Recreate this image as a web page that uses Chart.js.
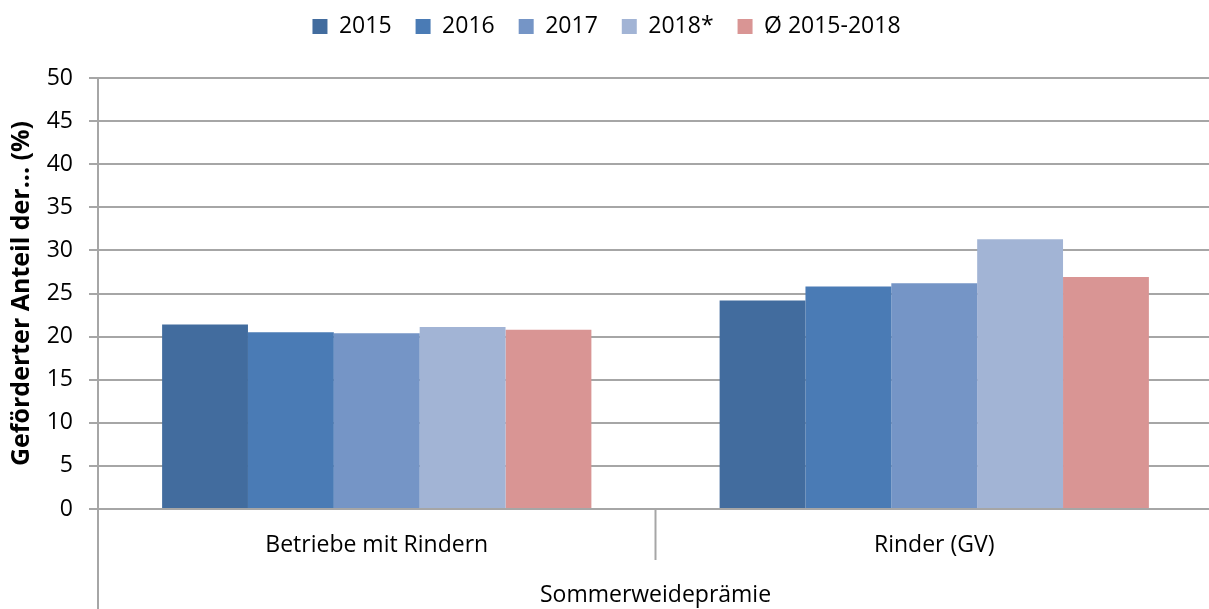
<!DOCTYPE html>
<html>
    <head>
        <meta charset="UTF-8">
        <title>Sommerweideprämie</title>
        <script src="https://cdn.jsdelivr.net/npm/chart.js"></script>
        <style>
            body { margin: 0; overflow: hidden; background: #fff; }
            #wrap { width: 1213px; height: 609px; position: relative; }
        </style>
    </head>
    <body>
        <div id="wrap">
            <canvas id="chart"></canvas>
        </div>
        <script>
        // Daten
        const categories = ['Betriebe mit Rindern', 'Rinder (GV)'];
        const seriesNames = ['2015', '2016', '2017', '2018*', 'Ø 2015-2018'];
        const v2015 = [21.4, 24.2];
        const v2016 = [20.5, 25.8];
        const v2017 = [20.4, 26.2];
        const v2018 = [21.1, 31.3];
        const vAvg = [20.8, 26.9];
        const yTicks = [0, 5, 10, 15, 20, 25, 30, 35, 40, 45, 50];
        const groupLabel = 'Sommerweideprämie';
        const yTitle = 'Geförderter Anteil der... (%)';

        const colors = ['#426c9e', '#4a7bb5', '#7595c6', '#a2b4d5', '#d99594'];
        const values = [v2015, v2016, v2017, v2018, vAvg];
        const FONT = '"Open Sans", sans-serif';
        const gridColor = '#a6a6a6';

        // Abstand zwischen Legende und Diagramm
        const legendSpacer = {
            id: 'legendSpacer',
            beforeInit(chart) {
                const fit = chart.legend.fit;
                chart.legend.fit = function () {
                    fit.call(this);
                    this.height += 30;
                };
            }
        };

        // Trennlinien der Kategorien unterhalb der x-Achse
        const separatorPlugin = {
            id: 'separators',
            afterDraw(chart) {
                const c = chart.ctx;
                const area = chart.chartArea;
                const x = chart.scales.x;
                c.save();
                c.strokeStyle = gridColor;
                c.lineWidth = 2;
                // linke Achse bis zum unteren Rand verlängern
                c.beginPath();
                c.moveTo(area.left, area.bottom);
                c.lineTo(area.left, chart.height);
                c.stroke();
                // Grenze zwischen den Kategorien
                for (let i = 1; i < categories.length; i++) {
                    const px = (x.getPixelForValue(i - 1) + x.getPixelForValue(i)) / 2;
                    c.beginPath();
                    c.moveTo(px, area.bottom);
                    c.lineTo(px, area.bottom + 51);
                    c.stroke();
                }
                c.restore();
            }
        };

        new Chart(document.getElementById('chart'), {
            type: 'bar',
            data: {
                labels: categories,
                datasets: seriesNames.map((name, i) => ({
                    label: name,
                    data: values[i],
                    backgroundColor: colors[i],
                    categoryPercentage: 0.77,
                    barPercentage: 1.0
                }))
            },
            options: {
                responsive: true,
                maintainAspectRatio: false,
                animation: false,
                layout: { padding: { top: -9, right: 0, bottom: 0, left: 0 } },
                plugins: {
                    legend: {
                        position: 'top',
                        labels: {
                            font: { family: FONT, size: 23 },
                            color: '#000',
                            boxWidth: 15,
                            boxHeight: 15,
                            padding: 24
                        }
                    },
                    tooltip: { enabled: false }
                },
                scales: {
                    x: {
                        afterFit(s) { s.height = 100; },
                        grid: { display: false, drawTicks: false },
                        border: { display: false },
                        ticks: {
                            font: { family: FONT, size: 23 },
                            color: '#000',
                            padding: 23,
                            maxRotation: 0
                        },
                        title: {
                            display: true,
                            text: groupLabel,
                            font: { family: FONT, size: 23 },
                            color: '#000',
                            padding: { top: 0, bottom: 0 }
                        }
                    },
                    y: {
                        min: 0,
                        max: 50,
                        afterFit(s) { s.width = 98; },
                        afterBuildTicks(s) { s.ticks = yTicks.map(v => ({ value: v })); },
                        grid: { color: gridColor, lineWidth: 2, tickLength: 9 },
                        border: { color: gridColor, width: 2 },
                        ticks: {
                            font: { family: FONT, size: 23 },
                            color: '#000',
                            padding: 16
                        },
                        title: {
                            display: true,
                            text: yTitle,
                            font: { family: FONT, size: 25, weight: 'bold' },
                            color: '#000',
                            padding: { top: 7, bottom: 0 }
                        }
                    }
                }
            },
            plugins: [legendSpacer, separatorPlugin]
        });
        </script>
    </body>
</html>
